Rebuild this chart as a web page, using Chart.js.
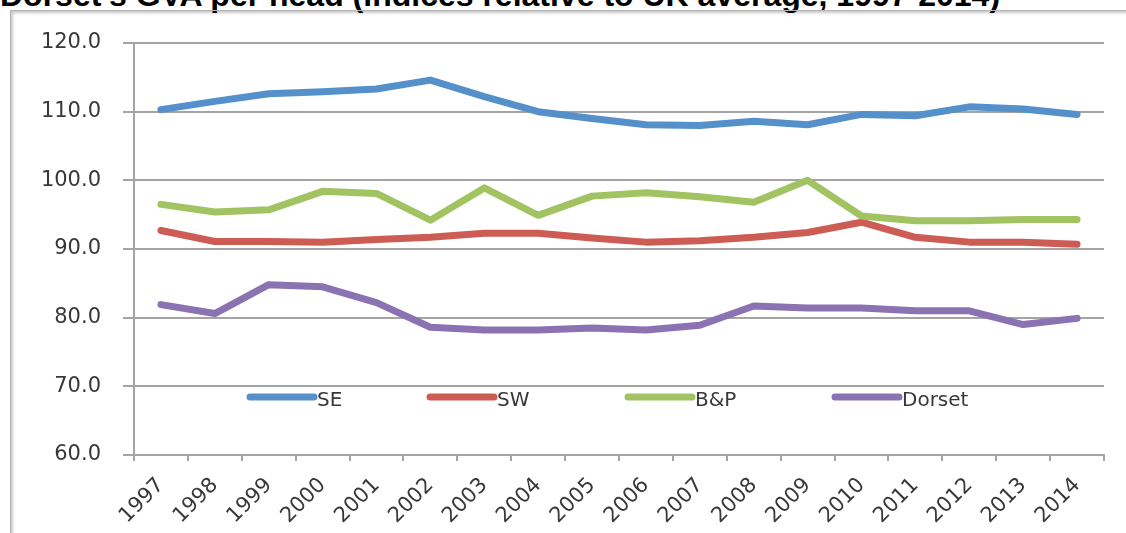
<!DOCTYPE html>
<html>
<head>
<meta charset="utf-8">
<script src="https://cdn.jsdelivr.net/npm/chart.js@4/dist/chart.umd.min.js"></script>
<style>
  html, body { margin: 0; padding: 0; background: #fff; overflow: hidden; }
  #wrap { position: relative; width: 1126px; height: 533px; }
  #title {
    position: absolute; left: 0; top: -21px; white-space: nowrap;
    font: bold 32px "Liberation Sans", Arial, sans-serif; line-height: 32px; color: #000;
  }
  #frame {
    position: absolute; left: 10px; top: 10px; width: 1200px; height: 600px;
    border: 1px solid #b4b4b4;
    box-shadow: inset 2px 2px 3px rgba(0,0,0,0.22);
  }
  #chart { position: absolute; left: 0; top: 0; }
</style>
</head>
<body>
<div id="wrap">
  <div id="title">Dorset's GVA per head (indices relative to UK average, 1997-2014)</div>
  <div id="frame"></div>
  <canvas id="chart" width="1126" height="533"></canvas>
</div>
<script>
'use strict'

const years = ['1997', '1998', '1999', '2000', '2001', '2002', '2003', '2004', '2005',
  '2006', '2007', '2008', '2009', '2010', '2011', '2012', '2013', '2014']

const se = [110.3, 111.5, 112.6, 112.9, 113.3, 114.6, 112.2, 110.0, 109.0,
  108.1, 108.0, 108.6, 108.1, 109.6, 109.4, 110.7, 110.4, 109.6]
const sw = [92.7, 91.1, 91.1, 91.0, 91.4, 91.7, 92.3, 92.3, 91.6,
  91.0, 91.2, 91.7, 92.4, 93.9, 91.7, 91.0, 91.0, 90.7]
const bp = [96.5, 95.4, 95.7, 98.4, 98.1, 94.2, 98.9, 94.9, 97.7,
  98.2, 97.6, 96.8, 100.0, 94.8, 94.1, 94.1, 94.3, 94.3]
const dorset = [81.9, 80.6, 84.8, 84.5, 82.2, 78.6, 78.2, 78.2, 78.5,
  78.2, 78.9, 81.7, 81.4, 81.4, 81.0, 81.0, 79.0, 79.9]

const seriesNames = ['SE', 'SW', 'B&P', 'Dorset']
const yTicks = [60, 70, 80, 90, 100, 110, 120]

const colors = ['#5590cb', '#cd5c55', '#a1c362', '#8b72b3']
const textColor = '#383838'
const gridColor = '#a4a4a4'
const font = { family: '"DejaVu Sans", sans-serif', size: 21 }

// legend sits inside the plot, Excel style
const legendX = [250, 430, 628, 835]
const legendY = 397

const inPlotLegend = {
  id: 'inPlotLegend',
  afterDatasetsDraw(chart) {
    const c = chart.ctx
    c.save()
    c.font = '20px "DejaVu Sans", sans-serif'
    c.textBaseline = 'middle'
    chart.data.datasets.forEach((ds, i) => {
      const x = legendX[i]
      c.strokeStyle = ds.borderColor
      c.lineWidth = 7
      c.lineCap = 'round'
      c.beginPath()
      c.moveTo(x, legendY)
      c.lineTo(x + 64, legendY)
      c.stroke()
      c.fillStyle = textColor
      c.fillText(ds.label, x + 67, legendY + 4)
    })
    c.restore()
  }
}

const datasets = [se, sw, bp, dorset].map((vals, i) => ({
  label: seriesNames[i],
  data: vals,
  borderColor: colors[i],
  backgroundColor: colors[i],
  borderWidth: 7,
  borderCapStyle: 'round',
  borderJoinStyle: 'round',
  pointRadius: 0,
  tension: 0,
  order: 3 - i
}))

new Chart(document.getElementById('chart'), {
  type: 'line',
  data: { labels: years, datasets: datasets },
  options: {
    responsive: false,
    animation: false,
    layout: { padding: { top: 43, right: 22, left: 0, bottom: 0 } },
    plugins: {
      legend: { display: false },
      title: { display: false },
      tooltip: { enabled: false }
    },
    scales: {
      x: {
        offset: true,
        grid: { drawOnChartArea: false, drawTicks: true, tickLength: 6, offset: true, color: gridColor, lineWidth: 2 },
        border: { display: true, color: gridColor, width: 2 },
        ticks: { color: textColor, font: font, minRotation: 45, maxRotation: 45, padding: 12, autoSkip: false },
        afterFit(s) { s.height = 78 }
      },
      y: {
        min: 60,
        max: 120,
        afterBuildTicks(s) { s.ticks = yTicks.map(v => ({ value: v })) },
        grid: { color: gridColor, lineWidth: 2, tickLength: 11 },
        border: { display: true, color: gridColor, width: 2 },
        ticks: { color: textColor, font: font, padding: 22, callback: v => v.toFixed(1) },
        afterFit(s) { s.width = 134 }
      }
    }
  },
  plugins: [inPlotLegend]
})
</script>
</body>
</html>
